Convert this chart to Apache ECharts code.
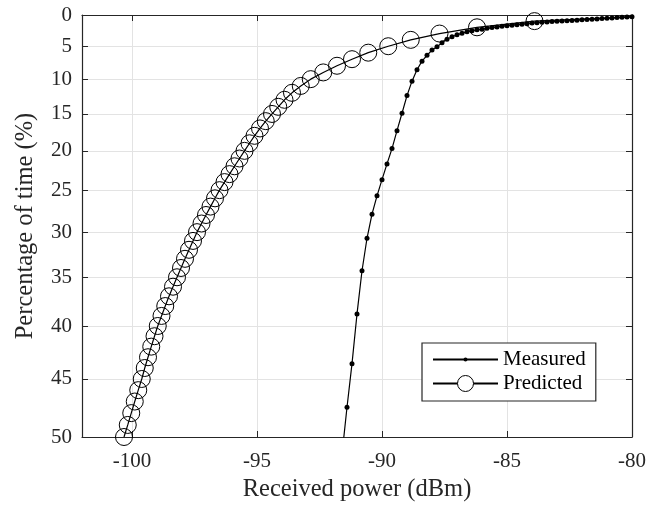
<!DOCTYPE html>
<html>
<head>
<meta charset="utf-8">
<script src="https://cdn.jsdelivr.net/npm/echarts@6/dist/echarts.min.js"></script>
<style>
html,body{margin:0;padding:0;background:#fff;}
#chart{width:661px;height:508px;}
</style>
</head>
<body>
<div id="chart"></div>
<script>
// ---- data ----
var measuredPower = [-91.6,-91.4,-91.2,-91.0,-90.8,-90.6,-90.4,-90.2,-90.0,-89.8,-89.6,-89.4,-89.2,-89.0,-88.8,-88.6,-88.4,-88.2,-88.0,-87.8,-87.6,-87.4,-87.2,-87.0,-86.8,-86.6,-86.4,-86.2,-86.0,-85.8,-85.6,-85.4,-85.2,-85.0,-84.8,-84.6,-84.4,-84.2,-84.0,-83.8,-83.6,-83.4,-83.2,-83.0,-82.8,-82.6,-82.4,-82.2,-82.0,-81.8,-81.6,-81.4,-81.2,-81.0,-80.8,-80.6,-80.4,-80.2,-80.0];
var measuredPct = [51.4,47.5,43.6,38.8,34.3,30.7,27.9,25.7,23.7,21.7,19.7,17.3,14.9,12.4,10.3,8.6,7.3,6.4,5.6,5.1,4.45,3.9,3.5,3.2,2.96,2.7,2.55,2.41,2.3,2.17,2.05,1.94,1.82,1.74,1.66,1.58,1.5,1.41,1.31,1.25,1.18,1.13,1.08,1.03,0.98,0.94,0.89,0.84,0.79,0.74,0.69,0.64,0.59,0.54,0.49,0.43,0.38,0.33,0.28];

var predictedPct = [1,2,3,4,5,6,7,8,9,10,11,12,13,14,15,16,17,18,19,20,21,22,23,24,25,26,27,28,29,30,31,32,33,34,35,36,37,38,39,40,41,42,43,44,45,46,47,48,49,50];
var predictedPower = [-83.9,-86.2,-87.7,-88.85,-89.75,-90.55,-91.2,-91.8,-92.35,-92.85,-93.25,-93.6,-93.9,-94.15,-94.4,-94.65,-94.88,-95.1,-95.3,-95.5,-95.7,-95.9,-96.1,-96.3,-96.5,-96.68,-96.86,-97.04,-97.22,-97.4,-97.56,-97.72,-97.88,-98.04,-98.2,-98.36,-98.52,-98.67,-98.82,-98.97,-99.1,-99.23,-99.36,-99.49,-99.61,-99.75,-99.89,-100.03,-100.17,-100.32];
// line continuation beyond the last marker (no marker drawn)
var predictedTailPower = [-80.0];
var predictedTailPct = [0.3];

var xTicks = [-100,-95,-90,-85,-80];
var yTickLabels = [0,5,10,15,20,25,30,35,40,45,50];

// ---- y scale: percentage axis scaled as -ln(1 - p/100) ----
function T(p){ return -Math.log(1 - p/100); }
function Tinv(v){ return 100*(1 - Math.exp(-v)); }
var yTickPos = yTickLabels.map(T);

var measuredData = measuredPower.map(function(x,i){ return [x, T(measuredPct[i])]; });
var predictedData = predictedPower.map(function(x,i){ return [x, T(predictedPct[i])]; });
predictedData.unshift.apply(predictedData, predictedTailPower.map(function(x,i){
  return {value:[x, T(predictedTailPct[i])], symbol:'none'};
}));

var FONT = "'Liberation Serif','Times New Roman',serif";
var AX = '#262626';
var GRID = '#e3e3e3';

var chart = echarts.init(document.getElementById('chart'), null, {renderer:'canvas'});
var xBase = {
  type:'value', min:-102, max:-80,
  axisLine:{show:true, onZero:false, lineStyle:{color:AX, width:1.2}},
  axisTick:{show:true, inside:true, length:6, customValues:xTicks, lineStyle:{color:AX, width:1}},
  axisLabel:{show:true, customValues:xTicks, color:AX, fontFamily:FONT, fontSize:21, margin:14},
  splitLine:{show:true, lineStyle:{color:GRID, width:1}}
};
var yBase = {
  type:'value', min:0, max:T(50), inverse:true,
  axisLine:{show:true, onZero:false, lineStyle:{color:AX, width:1.2}},
  axisTick:{show:true, inside:true, length:6, customValues:yTickPos, lineStyle:{color:AX, width:1}},
  axisLabel:{show:true, customValues:yTickPos, color:AX, fontFamily:FONT, fontSize:21, margin:10,
    formatter:function(v){ return String(Math.round(Tinv(v))); }},
  splitLine:{show:true, lineStyle:{color:GRID, width:1}}
};

var option = {
  backgroundColor:'#fff',
  animation:false,
  grid:{left:82, right:29, top:15, bottom:71, containLabel:false, outerBoundsMode:'none'},
  xAxis:[
    Object.assign({}, xBase, {position:'bottom', name:'Received power (dBm)', nameLocation:'middle', nameGap:37,
      nameTextStyle:{color:AX, fontFamily:FONT, fontSize:24.5}}),
    Object.assign({}, xBase, {position:'top', axisLabel:{show:false, customValues:xTicks}, splitLine:{show:false}})
  ],
  yAxis:[
    Object.assign({}, yBase, {position:'left', name:'Percentage of time (%)', nameLocation:'middle', nameGap:44,
      nameTextStyle:{color:AX, fontFamily:FONT, fontSize:24.5}}),
    Object.assign({}, yBase, {position:'right', axisLabel:{show:false, customValues:yTickPos}, splitLine:{show:false}})
  ],
  legend:[
    {
      data:['Measured'], orient:'vertical', left:422, top:343,
      padding:[6,10,31,10], itemWidth:65, itemHeight:5, itemGap:0,
      backgroundColor:'#fff', borderColor:AX, borderWidth:1.2,
      textStyle:{color:'#000', fontFamily:FONT, fontSize:21}
    },
    {
      data:[{name:'Predicted', itemStyle:{color:'#fff', borderColor:'#000', borderWidth:1}}],
      orient:'vertical', left:422, top:367,
      padding:[6,10,6,10], itemWidth:65, itemHeight:20, itemGap:0,
      textStyle:{color:'#000', fontFamily:FONT, fontSize:21}
    }
  ],
  series:[
    {
      name:'Predicted', type:'line', xAxisIndex:0, yAxisIndex:0,
      data:predictedData, symbol:'circle', symbolSize:17, showSymbol:true,
      lineStyle:{color:'#000', width:1.2},
      itemStyle:{color:'none', borderColor:'#000', borderWidth:1},
      clip:true, z:2
    },
    {
      name:'Measured', type:'line', xAxisIndex:0, yAxisIndex:0,
      data:measuredData, symbol:'circle', symbolSize:5, showSymbol:true,
      lineStyle:{color:'#000', width:1.2},
      itemStyle:{color:'#000', borderWidth:0},
      clip:true, z:3
    }
  ]
};
chart.setOption(option);
</script>
</body>
</html>
